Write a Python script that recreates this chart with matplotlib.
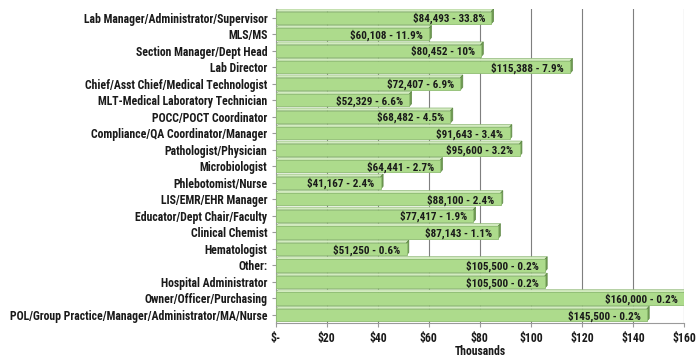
import matplotlib.pyplot as plt
from matplotlib.patches import Polygon

plt.rcParams['font.family'] = ['Roboto Condensed', 'Liberation Sans', 'DejaVu Sans']

roles = [
    "Lab Manager/Administrator/Supervisor", "MLS/MS", "Section Manager/Dept Head",
    "Lab Director", "Chief/Asst Chief/Medical Technologist",
    "MLT-Medical Laboratory Technician", "POCC/POCT Coordinator",
    "Compliance/QA Coordinator/Manager", "Pathologist/Physician", "Microbiologist",
    "Phlebotomist/Nurse", "LIS/EMR/EHR Manager", "Educator/Dept Chair/Faculty",
    "Clinical Chemist", "Hematologist", "Other:", "Hospital Administrator",
    "Owner/Officer/Purchasing", "POL/Group Practice/Manager/Administrator/MA/Nurse",
]
salary = [84493, 60108, 80452, 115388, 72407, 52329, 68482, 91643, 95600, 64441,
          41167, 88100, 77417, 87143, 51250, 105500, 105500, 160000, 145500]
share = ["33.8%", "11.9%", "10%", "7.9%", "6.9%", "6.6%", "4.5%", "3.4%", "3.2%", "2.7%",
         "2.4%", "2.4%", "1.9%", "1.1%", "0.6%", "0.2%", "0.2%", "0.2%", "0.2%"]
xticks = [0, 20, 40, 60, 80, 100, 120, 140, 160]
xlabels = ["$-", "$20", "$40", "$60", "$80", "$100", "$120", "$140", "$160"]

fig = plt.figure(figsize=(7, 3.6), dpi=100)
ax = fig.add_axes([0.394, 0.102, 0.583, 0.872])

vals = [s / 1000 for s in salary]
ypos = list(range(len(roles)))
h = 0.74
dx, dy = 0.9, 0.16

for y, v in zip(ypos, vals):
    # top face
    ax.add_patch(Polygon([(0, y - h / 2), (v, y - h / 2), (v + dx, y - h / 2 - dy), (dx, y - h / 2 - dy)],
                         closed=True, facecolor='#d3ebc0', edgecolor='#8fb878', lw=0.5, zorder=3))
    # side face
    ax.add_patch(Polygon([(v, y - h / 2), (v + dx, y - h / 2 - dy), (v + dx, y + h / 2 - dy), (v, y + h / 2)],
                         closed=True, facecolor='#6f9a52', edgecolor='#5d8744', lw=0.5, zorder=3))
ax.barh(ypos, vals, height=h, color='#addb8c', edgecolor='#8fbd72', lw=0.6, zorder=4)

for y, v, s, p in zip(ypos, vals, salary, share):
    ax.text(v - 2.4, y + 0.05, f"${s:,} - {p}", ha='right', va='center',
            fontsize=8, fontweight='bold', color='#1a1a1a', zorder=5)

ax.set_xlim(0, 160)
ax.set_ylim(18.5, -0.5)
ax.set_yticks(ypos)
ax.set_yticklabels(roles, fontsize=8.5, fontweight='bold', color='#1a1a1a')
ax.set_xticks(xticks)
ax.set_xticklabels(xlabels, fontsize=8.5, fontweight='bold', color='#1a1a1a')
ax.set_xlabel("Thousands", fontsize=8.5, fontweight='bold', color='#1a1a1a', labelpad=0)
ax.xaxis.grid(True, color='#7f7f7f', lw=0.8, zorder=0)
ax.set_axisbelow(True)
for side in ['top', 'right']:
    ax.spines[side].set_visible(False)
ax.spines['left'].set_color('#9a9a9a')
ax.spines['bottom'].set_color('#9a9a9a')
ax.tick_params(axis='both', length=3, color='#9a9a9a', pad=3)

fig.savefig('out.png', dpi=100)
